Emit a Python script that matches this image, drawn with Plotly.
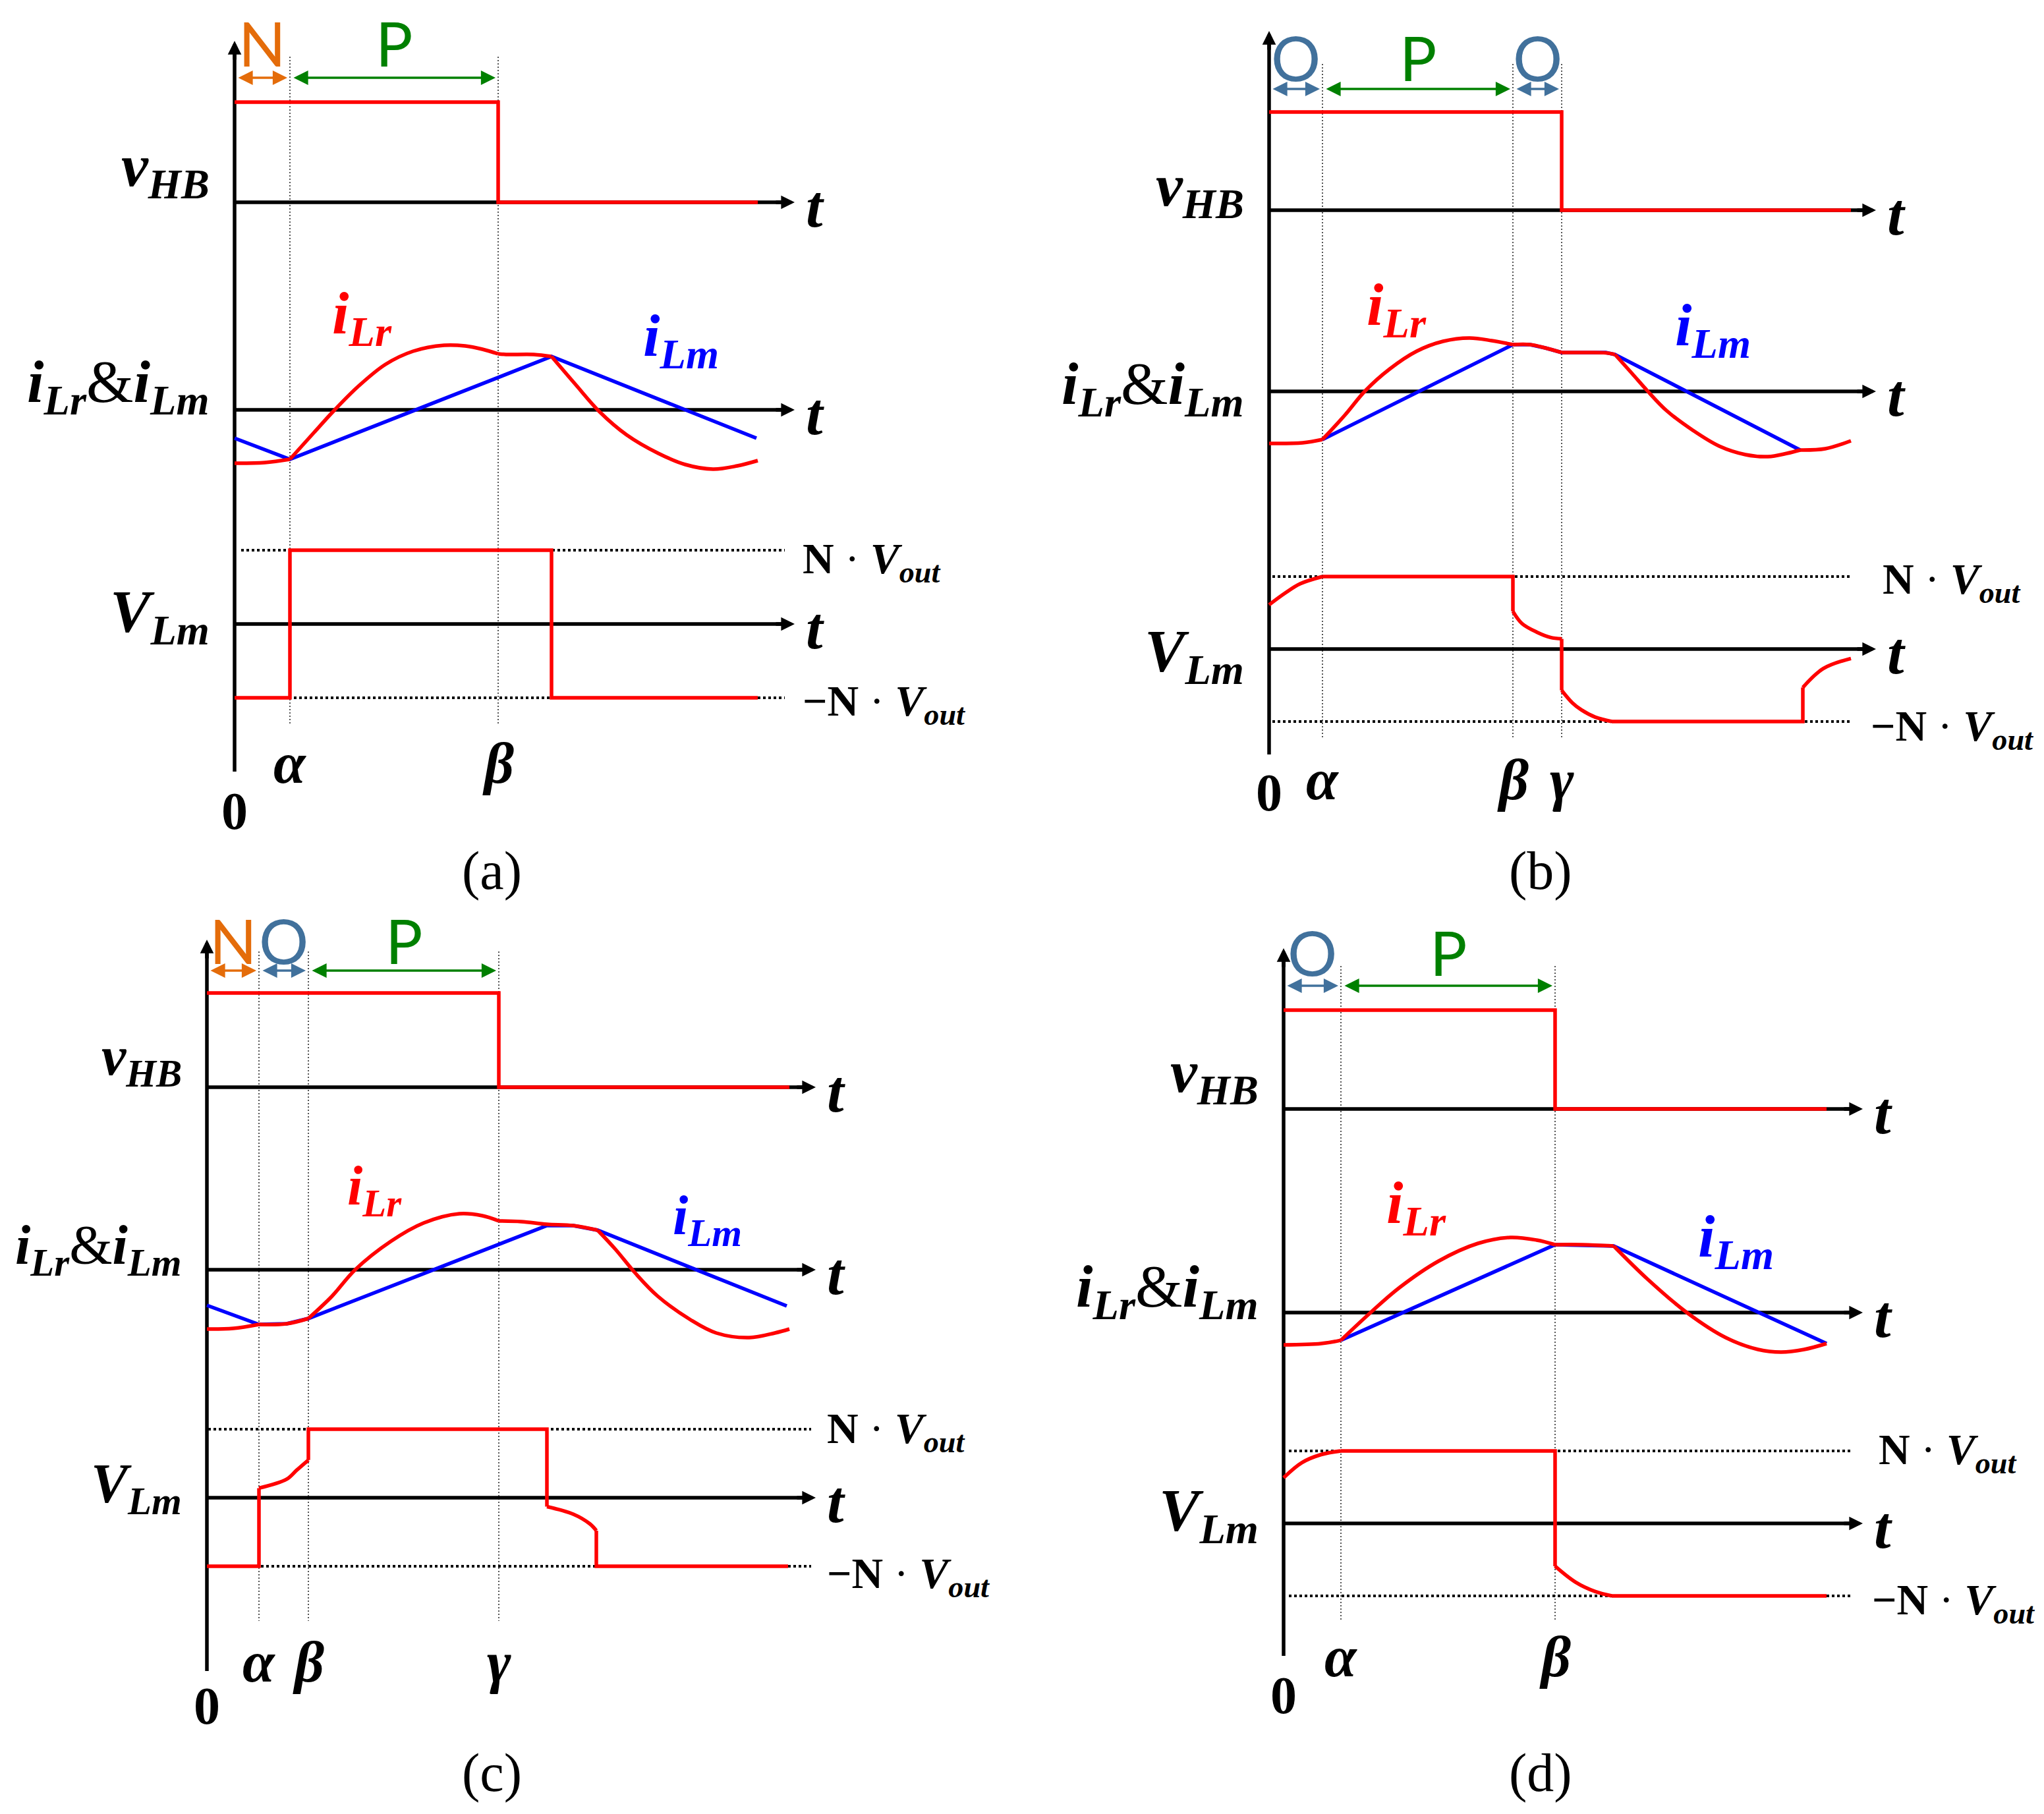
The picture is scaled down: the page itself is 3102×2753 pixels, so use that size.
import plotly.graph_objects as go

# ------------------------------------------------------------------
# DATA
# time unit: one division of each panel's time axis; amplitudes are
# normalised: v_HB high = 1, i in current units, V_Lm = +/-1 -> +/- N*Vout
# ------------------------------------------------------------------
# ---- panel (a)
A_MARKS = [("α", 0.84), ("β", 4.00)]
A_MODES = [("N", 0.00, 0.84), ("P", 0.84, 4.00)]
A_VHB_T = [0.00, 4.00, 4.00, 7.94]
A_VHB_V = [1, 1, 0, 0]
A_ILM_T = [0.00, 0.84, 4.81, 7.92]
A_ILM_V = [-0.43, -0.75, 0.81, -0.43]
A_ILR = [
    [(0.00, -0.81), (0.46, -0.80), (0.84, -0.75)],
    [(0.84, -0.75), (1.20, -0.35), (1.51, -0.01), (1.87, 0.35), (2.29, 0.69), (2.71, 0.89),
     (3.18, 0.98), (3.50, 0.97), (3.76, 0.92), (4.00, 0.85)],
    [(4.00, 0.85), (4.12, 0.84), (4.54, 0.84), (4.81, 0.81)],
    [(4.81, 0.81), (5.17, 0.39), (5.54, -0.03), (5.95, -0.38), (6.43, -0.66), (6.84, -0.83),
     (7.26, -0.90), (7.63, -0.85), (7.94, -0.77)],
]
A_VLM = [
    ("line", [(0.00, -1), (0.84, -1), (0.84, 1), (4.81, 1), (4.81, -1), (7.94, -1)]),
]

# ---- panel (b)
B_MARKS = [("α", 0.81), ("β", 3.70), ("γ", 4.44)]
B_MODES = [("O", 0.00, 0.81), ("P", 0.81, 3.70), ("O", 3.70, 4.44)]
B_VHB_T = [0.00, 4.44, 4.44, 8.83]
B_VHB_V = [1, 1, 0, 0]
B_ILM_T = [0.81, 3.70, 3.96, 4.19, 4.44, 5.11, 5.25, 8.06]
B_ILM_V = [-0.73, 0.71, 0.71, 0.66, 0.59, 0.59, 0.56, -0.89]
B_ILR = [
    [(0.00, -0.79), (0.51, -0.78), (0.81, -0.73)],
    [(0.81, -0.73), (1.15, -0.36), (1.46, 0.01), (1.83, 0.34), (2.24, 0.61), (2.64, 0.76),
     (3.04, 0.81), (3.38, 0.77), (3.70, 0.71)],
    [(3.70, 0.71), (3.96, 0.71), (4.19, 0.66), (4.44, 0.59)],
    [(4.44, 0.59), (4.80, 0.59), (5.11, 0.585), (5.25, 0.56)],
    [(5.25, 0.56), (5.51, 0.27), (5.74, 0.01), (6.03, -0.29), (6.43, -0.59), (6.83, -0.83),
     (7.23, -0.96), (7.57, -0.99), (7.86, -0.94), (8.06, -0.89)],
    [(8.06, -0.89), (8.44, -0.87), (8.83, -0.75)],
]
B_VLM = [
    ("curve", [(0.00, 0.61), (0.24, 0.77), (0.47, 0.90), (0.81, 1.00)]),
    ("line", [(0.81, 1.00), (3.70, 1.00), (3.70, 0.52)]),
    ("curve", [(3.70, 0.52), (3.84, 0.35), (4.07, 0.23), (4.27, 0.16), (4.44, 0.14)]),
    ("line", [(4.44, 0.14), (4.44, -0.57)]),
    ("curve", [(4.44, -0.57), (4.60, -0.74), (4.74, -0.84), (4.95, -0.94), (5.20, -1.00)]),
    ("line", [(5.20, -1.00), (8.10, -1.00), (8.10, -0.53)]),
    ("curve", [(8.10, -0.53), (8.41, -0.27), (8.83, -0.13)]),
]

# ---- panel (c)
C_MARKS = [("α", 0.79), ("β", 1.54), ("γ", 4.43)]
C_MODES = [("N", 0.00, 0.79), ("O", 0.79, 1.54), ("P", 1.54, 4.43)]
C_VHB_T = [0.00, 4.43, 4.43, 8.84]
C_VHB_V = [1, 1, 0, 0]
C_ILM_T = [0.00, 0.79, 1.21, 1.54, 5.16, 5.56, 5.93, 8.80]
C_ILM_V = [-0.54, -0.83, -0.82, -0.74, 0.67, 0.67, 0.60, -0.55]
C_ILR = [
    [(0.00, -0.90), (0.40, -0.89), (0.79, -0.83)],
    [(0.79, -0.83), (1.21, -0.82), (1.54, -0.74)],
    [(1.54, -0.74), (1.90, -0.40), (2.25, 0.00), (2.79, 0.43), (3.29, 0.71), (3.83, 0.85),
     (4.18, 0.82), (4.43, 0.74)],
    [(4.43, 0.74), (4.77, 0.73), (5.16, 0.69), (5.56, 0.67), (5.93, 0.60)],
    [(5.93, 0.60), (6.20, 0.31), (6.50, -0.05), (6.84, -0.40), (7.34, -0.76), (7.73, -0.96),
     (8.23, -1.03), (8.62, -0.96), (8.84, -0.90)],
]
C_VLM = [
    ("line", [(0.00, -1.00), (0.79, -1.00), (0.79, 0.14)]),
    ("curve", [(0.79, 0.14), (1.21, 0.27), (1.36, 0.40), (1.54, 0.55)]),
    ("line", [(1.54, 0.55), (1.54, 1.00), (5.16, 1.00), (5.16, -0.13)]),
    ("curve", [(5.16, -0.13), (5.56, -0.24), (5.81, -0.38), (5.91, -0.48)]),
    ("line", [(5.91, -0.48), (5.91, -1.00), (8.82, -1.00)]),
]

# ---- panel (d)
D_MARKS = [("α", 0.87), ("β", 4.12)]
D_MODES = [("O", 0.00, 0.87), ("P", 0.87, 4.12)]
D_VHB_T = [0.00, 4.12, 4.12, 8.24]
D_VHB_V = [1, 1, 0, 0]
D_ILM_T = [0.87, 4.12, 5.01, 8.24]
D_ILM_V = [-0.42, 1.03, 1.01, -0.47]
D_ILR = [
    [(0.00, -0.49), (0.57, -0.47), (0.87, -0.42)],
    [(0.87, -0.42), (1.32, 0.00), (1.76, 0.38), (2.35, 0.78), (2.95, 1.05), (3.44, 1.14),
     (3.84, 1.10), (4.12, 1.03)],
    [(4.12, 1.03), (4.53, 1.03), (5.01, 1.01)],
    [(5.01, 1.01), (5.52, 0.51), (6.12, 0.00), (6.71, -0.38), (7.20, -0.56), (7.55, -0.60),
     (7.90, -0.56), (8.24, -0.47)],
]
D_VLM = [
    ("curve", [(0.00, 0.63), (0.28, 0.84), (0.57, 0.95), (0.87, 1.00)]),
    ("line", [(0.87, 1.00), (4.12, 1.00), (4.12, -0.59)]),
    ("curve", [(4.12, -0.59), (4.43, -0.81), (4.73, -0.94), (4.98, -1.00)]),
    ("line", [(4.98, -1.00), (8.24, -1.00)]),
]

CAPTIONS = ["(a)", "(b)", "(c)", "(d)"]
ROW_LABELS = [
    "<b><i>v</i></b><sub><b><i>HB</i></b></sub>",
    "<b><i>i</i></b><sub><b><i>Lr</i></b></sub>&amp;<b><i>i</i></b><sub><b><i>Lm</i></b></sub>",
    "<b><i>V</i></b><sub><b><i>Lm</i></b></sub>",
]
ILR_LABEL = "<b><i>i</i></b><sub><b><i>Lr</i></b></sub>"
ILM_LABEL = "<b><i>i</i></b><sub><b><i>Lm</i></b></sub>"
NV_POS = "<b>N</b> · <b><i>V</i></b><sub><b><i>out</i></b></sub>"
NV_NEG = "<b>−N</b> · <b><i>V</i></b><sub><b><i>out</i></b></sub>"

# ------------------------------------------------------------------
# LAYOUT (pixel placement of each panel inside the 3102x2753 page)
# ------------------------------------------------------------------
W, H = 3102, 2753          # page size of the reference
OFF = 8                    # default body margin of the written page
FW, FH = W - 2 * OFF, H - 2 * OFF
T_PX = 100.0
MATH = "Liberation Serif"
SANS = "Lato"
RED, BLUE, BLACK = "#FF0000", "#0000FF", "#000000"
MODE_COL = {"N": "#E46C0A", "O": "#41719C", "P": "#008000"}

PANELS = [
    dict(marks=A_MARKS, modes=A_MODES, vhb=(A_VHB_T, A_VHB_V), ilm=(A_ILM_T, A_ILM_V), ilr=A_ILR, vlm=A_VLM,
         x0=356, rows=[(307, 152), (622, 100), (947, 112)], vax=(62, 1171), vdot=(86, 1098), tip=8.50,
         ref=(0.10, 8.35), mode_y=118, mode_lab_y=65, row_lab_y=[258, 585, 934], lab_size=92,
         ilr_lab=(1.93, 482), ilm_lab=(6.77, 516), mark_y=1158, zero_y=1231,
         nv=(1216, 852), nvn=(1216, 1068), cap=(746, 1321)),
    dict(marks=B_MARKS, modes=B_MODES, vhb=(B_VHB_T, B_VHB_V), ilm=(B_ILM_T, B_ILM_V), ilr=B_ILR, vlm=B_VLM,
         x0=1926, rows=[(319, 149), (594, 100), (985, 110)], vax=(47, 1145), vdot=(97, 1122), tip=9.21,
         ref=(0.05, 8.81), mode_y=135, mode_lab_y=86, row_lab_y=[288, 588, 994], lab_size=92,
         ilr_lab=(1.93, 469), ilm_lab=(6.73, 499), mark_y=1183, zero_y=1203,
         nv=(2855, 884), nvn=(2837, 1106), cap=(2338, 1321)),
    dict(marks=C_MARKS, modes=C_MODES, vhb=(C_VHB_T, C_VHB_V), ilm=(C_ILM_T, C_ILM_V), ilr=C_ILR, vlm=C_VLM,
         x0=314, rows=[(1650, 143), (1927, 100), (2273, 104)], vax=(1426, 2536), vdot=(1444, 2460), tip=9.24,
         ref=(0.02, 9.17), mode_y=1473, mode_lab_y=1426, row_lab_y=[1609, 1896, 2258], lab_size=84,
         ilr_lab=(2.54, 1806), ilm_lab=(7.59, 1851), mark_y=2522, zero_y=2589,
         nv=(1253, 2172), nvn=(1253, 2392), cap=(746, 2690)),
    dict(marks=D_MARKS, modes=D_MODES, vhb=(D_VHB_T, D_VHB_V), ilm=(D_ILM_T, D_ILM_V), ilr=D_ILR, vlm=D_VLM,
         x0=1948, rows=[(1683, 150), (1992, 100), (2312, 110)], vax=(1439, 2513), vdot=(1466, 2460), tip=8.79,
         ref=(0.08, 8.64), mode_y=1496, mode_lab_y=1444, row_lab_y=[1632, 1958, 2298], lab_size=92,
         ilr_lab=(2.01, 1831), ilm_lab=(6.86, 1882), mark_y=2514, zero_y=2573,
         nv=(2849, 2204), nvn=(2839, 2432), cap=(2338, 2690)),
]

ROW_LAB_T = -0.36
LW = 5.5


def runs_xy(runs):
    xs, ys = [], []
    for pts in runs:
        if xs:
            xs.append(None)
            ys.append(None)
        xs += [p[0] for p in pts]
        ys += [p[1] for p in pts]
    return xs, ys


def paper_y(py):
    return 1 - (py - OFF) / FH


def paper_x(px):
    return (px - OFF) / FW


fig = go.Figure()
annotations = []
axes = {}


def line_trace(x, y, xid, yid, color, width, dash=None, shape="linear"):
    ln = dict(color=color, width=width, shape=shape)
    if dash:
        ln["dash"] = dash
    if shape == "spline":
        ln["smoothing"] = 1.0
    fig.add_trace(go.Scatter(x=x, y=y, xaxis=xid, yaxis=yid, mode="lines", line=ln,
                             connectgaps=False, hoverinfo="skip", showlegend=False))


def arrow(x, y, ax, ay, xid, yid, color, width, size, both=False):
    d = dict(text="", x=x, y=y, ax=ax, ay=ay, xref=xid, yref=yid, axref=xid, ayref=yid,
             showarrow=True, arrowhead=2, arrowsize=size, arrowwidth=width, arrowcolor=color,
             standoff=0)
    if both:
        d.update(arrowside="end+start", startarrowhead=2, startarrowsize=size, startstandoff=0)
    annotations.append(d)


def text(t, x, y, xref, yref, size, color=BLACK, family=MATH, xanchor="center", yanchor="middle"):
    annotations.append(dict(text=t, x=x, y=y, xref=xref, yref=yref, showarrow=False,
                            font=dict(size=size, color=color, family=family),
                            xanchor=xanchor, yanchor=yanchor))


for p, P in enumerate(PANELS):
    xid = "x" if p == 0 else f"x{p + 1}"
    yids = ["y" if 3 * p + r == 0 else f"y{3 * p + r + 1}" for r in range(3)]
    x0 = P["x0"]
    axes["xaxis" if p == 0 else f"xaxis{p + 1}"] = dict(
        domain=[0, 1], range=[(OFF - x0) / T_PX, (OFF + FW - x0) / T_PX],
        visible=False, fixedrange=True, anchor=yids[0])
    for r in range(3):
        base, unit = P["rows"][r]
        axes["yaxis" if yids[r] == "y" else "yaxis" + yids[r][1:]] = dict(
            domain=[0, 1], range=[(base - FH - OFF) / unit, (base - OFF) / unit],
            visible=False, fixedrange=True, anchor=xid)

    def yv(r, py, P=P):
        base, unit = P["rows"][r]
        return (base - py) / unit

    tip = P["tip"]
    ls = P["lab_size"]

    # ---- row 0: guides, vertical axis, v_HB
    gx, gy = [], []
    for _, tm in P["marks"]:
        gx += [tm, tm, None]
        gy += [yv(0, P["vdot"][0]), yv(0, P["vdot"][1]), None]
    line_trace(gx, gy, xid, yids[0], "#555555", 2, dash="2px,3px")
    line_trace([0, 0], [yv(0, P["vax"][1]), yv(0, P["vax"][0] + 12)], xid, yids[0], BLACK, LW)
    arrow(0, yv(0, P["vax"][0]), 0, yv(0, P["vax"][0] + 30), xid, yids[0], BLACK, LW, 0.75)
    for r in range(3):
        line_trace([0, tip - 0.12], [0, 0], xid, yids[r], BLACK, LW)
        arrow(tip, 0, tip - 0.3, 0, xid, yids[r], BLACK, LW, 0.75)
        base, _ = P["rows"][r]
        text("<b><i>t</i></b>", tip + 0.31, paper_y(base + 6), xid, "paper", 92)
    line_trace(P["vhb"][0], P["vhb"][1], xid, yids[0], RED, LW)

    # ---- row 1: currents
    line_trace(P["ilm"][0], P["ilm"][1], xid, yids[1], BLUE, LW)
    rx, ry = runs_xy(P["ilr"])
    line_trace(rx, ry, xid, yids[1], RED, LW, shape="spline")

    # ---- row 2: V_Lm
    a, b = P["ref"]
    line_trace([a, b, None, a, b], [1, 1, None, -1, -1], xid, yids[2], BLACK, 4.2, dash="4px,4px")
    lx, ly = runs_xy([pts for kind, pts in P["vlm"] if kind == "line"])
    cx, cy = runs_xy([pts for kind, pts in P["vlm"] if kind == "curve"])
    if lx:
        line_trace(lx, ly, xid, yids[2], RED, LW)
    if cx:
        line_trace(cx, cy, xid, yids[2], RED, LW, shape="spline")

    # ---- mode arrows
    for name, t1, t2 in P["modes"]:
        col = MODE_COL[name]
        arrow(t2 - 0.04, yv(0, P["mode_y"]), t1 + 0.04, yv(0, P["mode_y"]), xid, yids[0], col, 3.4, 1.3, both=True)
        text(name, (t1 + t2) / 2, paper_y(P["mode_lab_y"]), xid, "paper", 94, color=col, family=SANS)

    # ---- labels
    for r in range(3):
        text(ROW_LABELS[r], ROW_LAB_T, paper_y(P["row_lab_y"][r]), xid, "paper", ls, xanchor="right")
    text(ILR_LABEL, P["ilr_lab"][0], paper_y(P["ilr_lab"][1]), xid, "paper", ls, color=RED)
    text(ILM_LABEL, P["ilm_lab"][0], paper_y(P["ilm_lab"][1]), xid, "paper", ls, color=BLUE)
    for name, tm in P["marks"]:
        text(f"<b><i>{name}</i></b>", tm, paper_y(P["mark_y"]), xid, "paper", 88)
    text("<b>0</b>", 0, paper_y(P["zero_y"]), xid, "paper", 80)
    text(NV_POS, paper_x(P["nv"][0]), paper_y(P["nv"][1]), "paper", "paper", 66, xanchor="left")
    text(NV_NEG, paper_x(P["nvn"][0]), paper_y(P["nvn"][1]), "paper", "paper", 66, xanchor="left")
    text(CAPTIONS[p], paper_x(P["cap"][0]), paper_y(P["cap"][1]), "paper", "paper", 82)

fig.update_layout(
    width=FW, height=FH, autosize=False,
    margin=dict(l=0, r=0, t=0, b=0, pad=0),
    paper_bgcolor="white", plot_bgcolor="rgba(0,0,0,0)",
    showlegend=False, hovermode=False,
    annotations=annotations,
    **axes,
)

fig.write_html("out.html")
